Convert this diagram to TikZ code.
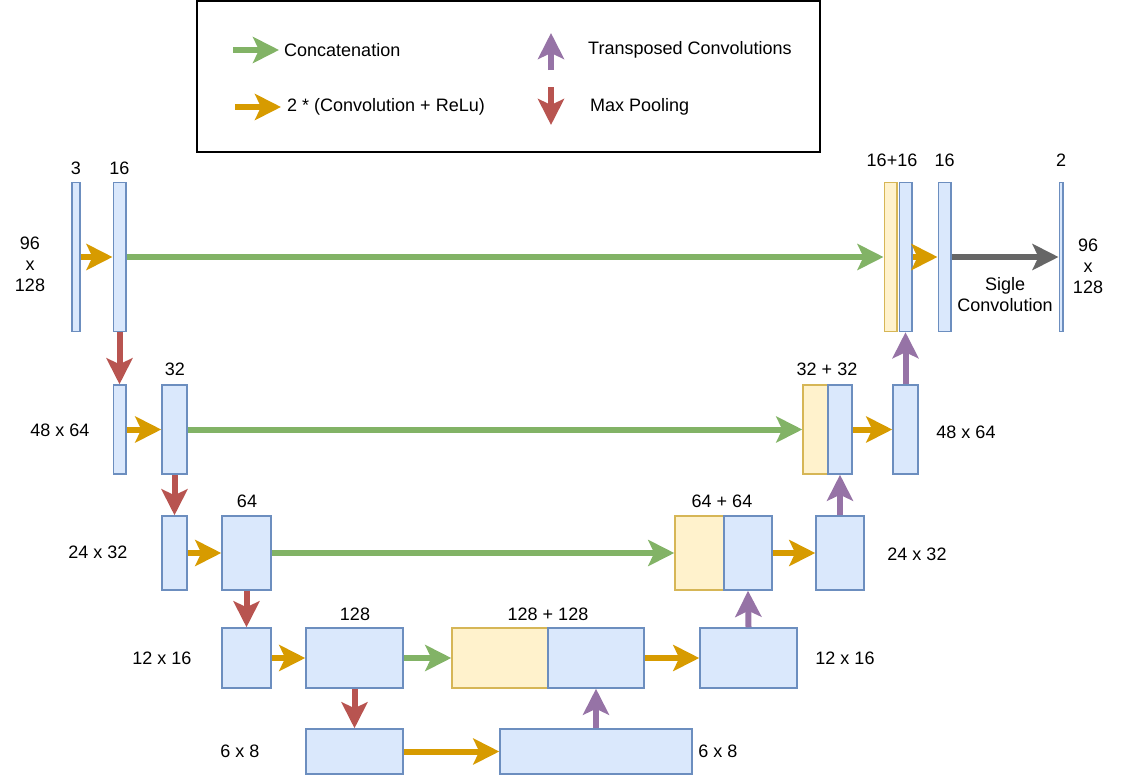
\documentclass[tikz,border=0pt]{standalone}
\usepackage{fontspec}
\setmainfont{Liberation Sans}
\usetikzlibrary{arrows.meta}
\definecolor{blufill}{HTML}{DAE8FC}
\definecolor{bluline}{HTML}{6C8EBF}
\definecolor{yelfill}{HTML}{FFF2CC}
\definecolor{yelline}{HTML}{D6B656}
\definecolor{concat}{HTML}{82B366}
\definecolor{conv}{HTML}{D79B00}
\definecolor{pool}{HTML}{B85450}
\definecolor{upconv}{HTML}{9673A6}
\definecolor{single}{HTML}{666666}

\begin{document}
\begin{tikzpicture}[x=1pt,y=-1pt,
    every node/.style={font=\fontsize{18}{21}\selectfont,inner sep=0pt},
    blk/.style 2 args={draw=bluline,fill=blufill,line width=1.5pt,minimum width=#1pt,minimum height=#2pt},
    cat/.style 2 args={blk={#1}{#2},draw=yelline,fill=yelfill},
    arr/.style={line width=6pt,-{Stealth[length=26pt,width=26pt,inset=6pt]}}]
      \useasboundingbox (0,0) rectangle (1121,776);
      % legend
      \node[draw,line width=1.2pt,minimum width=623pt,minimum height=151pt] (legend) at (508.5,76.5) {};
      \coordinate (g0) at (233,50);
      \coordinate (g1) at (279,50);
      \coordinate (o0) at (235,107);
      \coordinate (o1) at (281,107);
      \coordinate (v0) at (551,70);
      \coordinate (v1) at (551,33);
      \coordinate (r0) at (551,87);
      \coordinate (r1) at (551,125);
      \draw[arr,concat] (g0) -- (g1);
      \draw[arr,conv] (o0) -- (o1);
      \draw[arr,upconv] (v0) -- (v1);
      \draw[arr,pool] (r0) -- (r1);
      \node[anchor=west] (tg) at (284,50) {Concatenation};
      \node[anchor=west] (to) at (287,107) {2 * (Convolution + ReLu)};
      \node[anchor=west] (tv) at (588,50) {Transposed Convolutions};
      \node[anchor=west] (tr) at (590,107) {Max Pooling};
      % row 1
      \node[blk={8}{149}] (in) at (76,257) {};
      \node[blk={12.5}{149}] (e1) at (119.5,257) {};
      \node[cat={12.5}{149}] (c1) at (890.5,257) {};
      \node[blk={12.5}{149}] (u1) at (905.5,257) {};
      \node[blk={12.5}{149}] (d1) at (944.5,257) {};
      \node[blk={3.5}{149}] (out) at (1061,257) {};
      % row 2
      \node[blk={12.5}{89}] (p1) at (119.5,429.5) {};
      \node[blk={25}{89}] (e2) at (174.5,429.5) {};
      \node[cat={25}{89}] (c2) at (815.5,429.5) {};
      \node[blk={24}{89}] (u2) at (840,429.5) {};
      \node[blk={25}{89}] (d2) at (905.5,429.5) {};
      % row 3
      \node[blk={25}{74}] (p2) at (174.5,553) {};
      \node[blk={49}{74}] (e3) at (246.5,553) {};
      \node[cat={48.5}{74}] (c3) at (699.25,553) {};
      \node[blk={48}{74}] (u3) at (748,553) {};
      \node[blk={48}{74}] (d3) at (840,553) {};
      % row 4
      \node[blk={49}{60}] (p3) at (246.5,658) {};
      \node[blk={97}{60}] (e4) at (354.5,658) {};
      \node[cat={96}{60}] (c4) at (500,658) {};
      \node[blk={96}{60}] (u4) at (596,658) {};
      \node[blk={97}{60}] (d4) at (748.5,658) {};
      % row 5
      \node[blk={97}{45}] (p4) at (354.5,751.5) {};
      \node[blk={192}{45}] (e5) at (596,751.5) {};
      % convolutions
      \draw[arr,conv] (in.east) -- (e1.west);
      \draw[arr,conv] (u1.east) -- (d1.west);
      \draw[arr,conv] (p1.east) -- (e2.west);
      \draw[arr,conv] (u2.east) -- (d2.west);
      \draw[arr,conv] (p2.east) -- (e3.west);
      \draw[arr,conv] (u3.east) -- (d3.west);
      \draw[arr,conv] (p3.east) -- (e4.west);
      \draw[arr,conv] (u4.east) -- (d4.west);
      \draw[arr,conv] (p4.east) -- (e5.west);
      % skip connections
      \draw[arr,concat] (e1.east) -- (c1.west);
      \draw[arr,concat] (e2.east) -- (c2.west);
      \draw[arr,concat] (e3.east) -- (c3.west);
      \draw[arr,concat] (e4.east) -- (c4.west);
      % pooling and up-convolutions
      \draw[arr,pool] (e1.south) -- (p1.north);
      \draw[arr,pool] (e2.south) -- (p2.north);
      \draw[arr,pool] (e3.south) -- (p3.north);
      \draw[arr,pool] (e4.south) -- (p4.north);
      \draw[arr,upconv] (e5.north) -- (u4.south);
      \draw[arr,upconv] (d4.north) -- (u3.south);
      \draw[arr,upconv] (d3.north) -- (u2.south);
      \draw[arr,upconv] (d2.north) -- (u1.south);
      \draw[arr,single] (d1.east) -- (out.west);
      % labels
      \node (n3) at (76,168) {3};
      \node (n16) at (119.5,168) {16};
      \node (n1616) at (892,160) {16+16};
      \node (n16b) at (944.5,160) {16};
      \node (n2) at (1061,160) {2};
      \node[align=center] (s1l) at (30,264) {96\\x\\128};
      \node[align=center] (s1r) at (1088,266) {96\\x\\128};
      \node[align=center] (sc) at (1005,295) {Sigle\\Convolution};
      \node (s2l) at (60,430) {48 x 64};
      \node (s2r) at (966,432) {48 x 64};
      \node (n32) at (175,369) {32};
      \node (n3232) at (827,369) {32 + 32};
      \node (s3l) at (98,552) {24 x 32};
      \node (s3r) at (917,554) {24 x 32};
      \node (n64) at (247,501) {64};
      \node (n6464) at (722,501) {64 + 64};
      \node (s4l) at (162,658) {12 x 16};
      \node (s4r) at (845,658) {12 x 16};
      \node (n128) at (355,614) {128};
      \node (n128128) at (548,614) {128 + 128};
      \node (s5l) at (240,751) {6 x 8};
      \node (s5r) at (718,751) {6 x 8};
    \end{tikzpicture}
\end{document}
